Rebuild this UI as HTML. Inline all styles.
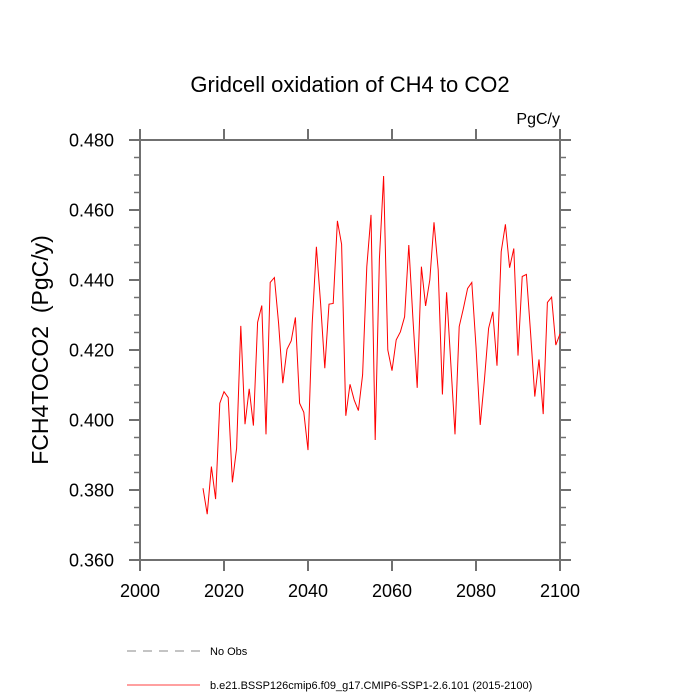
<!DOCTYPE html>
<html><head><meta charset="utf-8"><style>
body{margin:0;background:#fff;}
svg{display:block;font-family:"Liberation Sans",sans-serif;}
</style></head><body>
<svg id="chart" width="700" height="700">
<text x="350" y="92" text-anchor="middle" font-size="22">Gridcell oxidation of CH4 to CO2</text>
<text x="560" y="124" text-anchor="end" font-size="16">PgC/y</text>
<text transform="translate(48,350) rotate(-90)" text-anchor="middle" font-size="23" xml:space="preserve">FCH4TOCO2  (PgC/y)</text>
<g id="axes"></g>
<path id="series" fill="none" stroke="#ff0000" stroke-width="1"/>
<line x1="127" y1="651" x2="200" y2="651" stroke="#888" stroke-dasharray="9,7"/>
<text x="210" y="655" font-size="11">No Obs</text>
<line x1="127" y1="685" x2="200" y2="685" stroke="#ff0000" stroke-width="0.8"/>
<text x="210" y="689" font-size="11">b.e21.BSSP126cmip6.f09_g17.CMIP6-SSP1-2.6.101 (2015-2100)</text>
</svg>
<script>
const startYear = 2015;
const values = [0.3805,0.3731,0.3867,0.3774,0.4048,0.4081,0.4064,0.3822,0.3919,0.4269,
0.3988,0.4089,0.3984,0.4279,0.4327,0.3959,0.4393,0.4407,0.4276,0.4105,
0.4202,0.4226,0.4293,0.4048,0.4022,0.3914,0.4276,0.4495,0.4333,0.4148,
0.4331,0.4333,0.4569,0.4502,0.4012,0.4102,0.4057,0.4027,0.4129,0.4438,
0.4586,0.3943,0.4460,0.4697,0.4200,0.4141,0.4229,0.4252,0.4295,0.4500,
0.4286,0.4092,0.4438,0.4326,0.4400,0.4565,0.4429,0.4073,0.4365,0.4162,
0.3959,0.4267,0.4319,0.4376,0.4393,0.4210,0.3986,0.4114,0.4262,0.4309,
0.4155,0.4481,0.4559,0.4435,0.4490,0.4184,0.4410,0.4416,0.4248,0.4067,
0.4173,0.4017,0.4336,0.4351,0.4214,0.4246];
const xTicks = [2000,2020,2040,2060,2080,2100];
const yTicks = [0.36,0.38,0.40,0.42,0.44,0.46,0.48];
const L=140,R=560,T=140,B=560;
const xs = v => L + (v-2000)/100*(R-L);
const ys = v => B - (v-0.36)/0.12*(B-T);
const NS='http://www.w3.org/2000/svg';
const g=document.getElementById('axes');
const AX='#707070';
function mk(tag,a){const e=document.createElementNS(NS,tag);for(const k in a)e.setAttribute(k,a[k]);g.appendChild(e);return e;}
const frame=mk('rect',{x:L,y:T,width:R-L,height:B-T,fill:'none',stroke:AX,'stroke-width':2});


xTicks.forEach(t=>{
 mk('line',{x1:xs(t),y1:B,x2:xs(t),y2:B+11,stroke:AX,'stroke-width':2});
 mk('line',{x1:xs(t),y1:T,x2:xs(t),y2:T-11,stroke:AX,'stroke-width':2});});
for(let i=0;i<=24;i++){const v=0.36+i*0.005;const major=(i%4===0);const len=major?11:6;
 mk('line',{x1:L,y1:ys(v),x2:L-len,y2:ys(v),stroke:AX,'stroke-width':major?2:1.5});
 mk('line',{x1:R,y1:ys(v),x2:R+len,y2:ys(v),stroke:AX,'stroke-width':major?2:1.5});}
xTicks.forEach(t=>{const e=mk('text',{x:xs(t),y:B+37,'text-anchor':'middle','font-size':18});e.textContent=t;
 
 });
yTicks.forEach(t=>{const e=mk('text',{x:L-26,y:ys(t)+6.5,'text-anchor':'end','font-size':18});e.textContent=t.toFixed(3);
 
 });
document.getElementById('series').setAttribute('d',values.map((v,i)=>(i?'L':'M')+xs(startYear+i).toFixed(2)+','+ys(v).toFixed(2)).join(''));
</script>
</body></html>
